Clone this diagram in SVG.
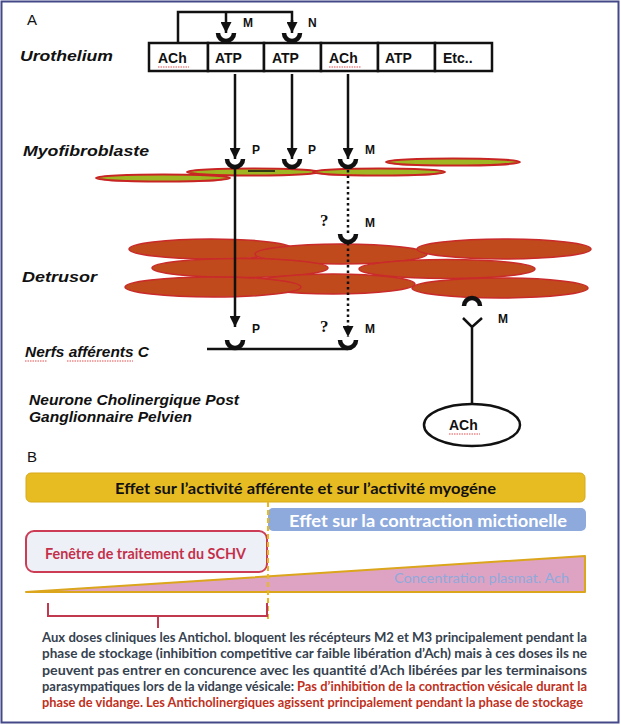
<svg xmlns="http://www.w3.org/2000/svg" width="621" height="725" viewBox="0 0 621 725">
<style>
.lbl{font-family:"Liberation Sans",Arial,sans-serif;font-weight:bold;font-style:italic;font-size:15px;fill:#111}
.box{fill:#fff;stroke:#111;stroke-width:2.5}
.bt{font-family:"Liberation Sans",Arial,sans-serif;font-weight:bold;font-size:14px;fill:#111}
.sm{font-family:"Liberation Sans",Arial,sans-serif;font-weight:bold;font-size:12px;fill:#111}
.q{font-family:"Liberation Serif","Times New Roman",serif;font-weight:bold;font-size:17px;fill:#111}
.ln{stroke:#111;stroke-width:2.5;fill:none}
.dot{stroke:#111;stroke-width:2.5;fill:none;stroke-dasharray:2.5 3}
.cup{stroke:#111;stroke-width:4.5;fill:none}
.myo{fill:#9fb622;stroke:#c92424;stroke-width:2}
.det{fill:#c14a1c;stroke:#c92a2a;stroke-width:1.5}
.sq{stroke:#e02020;stroke-width:0.8;fill:none;stroke-dasharray:1.5 1}
.cal{font-family:Lato,"Open Sans",sans-serif;font-weight:bold}
</style>
<defs>
<marker id="ah" viewBox="0 0 10 10" refX="10" refY="5" markerWidth="4.6" markerHeight="4.4" orient="auto" markerUnits="strokeWidth">
<path d="M0,0 L10,5 L0,10 Z" fill="#111"/>
</marker>
</defs>
<rect x="1.5" y="1.5" width="617" height="721" fill="#fff" stroke="#454888" stroke-width="2"/>

<text x="27" y="25" font-family="Liberation Sans,Arial,sans-serif" font-size="15" fill="#111">A</text>
<text x="27" y="462" font-family="Liberation Sans,Arial,sans-serif" font-size="15" fill="#111">B</text>

<g id="labels">
<text class="lbl" x="20" y="61" textLength="93" lengthAdjust="spacingAndGlyphs">Urothelium</text>
<text class="lbl" x="23" y="156" textLength="126" lengthAdjust="spacingAndGlyphs">Myofibroblaste</text>
<text class="lbl" x="22" y="282" textLength="75" lengthAdjust="spacingAndGlyphs">Detrusor</text>
<text class="lbl" x="25" y="357" textLength="124" lengthAdjust="spacingAndGlyphs">Nerfs afférents C</text>
<path class="sq" d="M25,361 H47 M67,361 H133"/>
<text class="lbl" x="29" y="405" textLength="210" lengthAdjust="spacingAndGlyphs">Neurone Cholinergique Post</text>
<text class="lbl" x="29" y="422" textLength="163" lengthAdjust="spacingAndGlyphs">Ganglionnaire Pelvien</text>
</g>

<g id="myofibroblast">
<ellipse class="myo" cx="163" cy="178" rx="67" ry="3.5"/>
<ellipse class="myo" cx="253" cy="172" rx="66" ry="3.5"/>
<ellipse class="myo" cx="379" cy="172" rx="66" ry="3.5"/>
<ellipse class="myo" cx="453" cy="162" rx="67" ry="3.5"/>
<line x1="248" y1="171" x2="275" y2="171" stroke="#111" stroke-width="1.5"/>
</g>

<g id="detrusor">
<ellipse class="det" cx="211" cy="249" rx="82" ry="10"/>
<ellipse class="det" cx="341" cy="254" rx="86" ry="10"/>
<ellipse class="det" cx="504" cy="249" rx="87" ry="10"/>
<ellipse class="det" cx="240" cy="268" rx="88" ry="9.5"/>
<ellipse class="det" cx="447" cy="269" rx="88" ry="9.5"/>
<ellipse class="det" cx="333" cy="284" rx="82" ry="10"/>
<ellipse class="det" cx="213" cy="287" rx="88" ry="10"/>
<ellipse class="det" cx="500" cy="288" rx="88" ry="10"/>
</g>

<g id="urothelium">
<rect class="box" x="149" y="43" width="59" height="28"/>
<rect class="box" x="208" y="43" width="56" height="28"/>
<rect class="box" x="264" y="43" width="57" height="28"/>
<rect class="box" x="321" y="43" width="57" height="28"/>
<rect class="box" x="378" y="43" width="57" height="28"/>
<rect class="box" x="435" y="43" width="57" height="28"/>
<text class="bt" x="158" y="63">ACh</text>
<path class="sq" d="M158,67 H189"/>
<text class="bt" x="215" y="63">ATP</text>
<text class="bt" x="272" y="63">ATP</text>
<text class="bt" x="329" y="63">ACh</text>
<path class="sq" d="M329,67 H361"/>
<text class="bt" x="385" y="63">ATP</text>
<text class="bt" x="443" y="63">Etc..</text>
</g>

<g id="neuron">
<ellipse cx="472" cy="425" rx="48" ry="21" fill="#fff" stroke="#111" stroke-width="2.5"/>
<text class="bt" x="449" y="430">ACh</text>
<path class="sq" d="M449,434 H480"/>
</g>

<g id="connectors">
<path class="ln" d="M178,43 V12 H292 V22"/>
<line class="ln" x1="226" y1="12" x2="226" y2="33" marker-end="url(#ah)"/>
<line class="ln" x1="292" y1="20" x2="292" y2="33" marker-end="url(#ah)"/>
<path class="cup" d="M218,33 A8,8 0 0 0 234,33"/>
<path class="cup" d="M284,33 A8,8 0 0 0 300,33"/>
<line class="ln" x1="235" y1="74" x2="235" y2="159" marker-end="url(#ah)"/>
<line class="ln" x1="292" y1="74" x2="292" y2="159" marker-end="url(#ah)"/>
<line class="ln" x1="348" y1="74" x2="348" y2="159" marker-end="url(#ah)"/>
<path class="cup" d="M227,159 A8,8 0 0 0 243,159"/>
<path class="cup" d="M284,159 A8,8 0 0 0 300,159"/>
<path class="cup" d="M340,159 A8,8 0 0 0 356,159"/>
<circle cx="348" cy="163" r="1.3" fill="#fff"/>
<line class="ln" x1="235" y1="165" x2="235" y2="327" marker-end="url(#ah)"/>
<path class="cup" d="M227,340 A8,8 0 0 0 243,340"/>
<line class="dot" x1="348" y1="170" x2="348" y2="233"/>
<path class="cup" d="M340,234 A8,8 0 0 0 356,234"/>
<line class="dot" x1="348" y1="243" x2="348" y2="337" marker-end="url(#ah)"/>
<path class="cup" d="M340,340 A8,8 0 0 0 356,340"/>
<line class="ln" x1="207" y1="349" x2="348" y2="349"/>
<path class="cup" d="M464,306 A8,8 0 0 1 480,306"/>
<path class="ln" d="M463,318 L472,327 L482,318 M472,327 V404"/>
</g>

<g id="receptor-labels">
<text class="sm" x="243" y="27">M</text>
<text class="sm" x="308" y="27">N</text>
<text class="sm" x="252" y="154">P</text>
<text class="sm" x="308" y="154">P</text>
<text class="sm" x="365" y="154">M</text>
<text class="q" x="320" y="226">?</text>
<text class="sm" x="365" y="227">M</text>
<text class="q" x="320" y="332">?</text>
<text class="sm" x="365" y="333">M</text>
<text class="sm" x="252" y="333">P</text>
<text class="sm" x="498" y="323">M</text>
</g>

<g id="part-b">
<g id="bar-afferent">
<rect x="26" y="473" width="559" height="29" rx="5" fill="#e7bb22" stroke="#d8a91a" stroke-width="1"/>
<text class="cal" x="115" y="494" font-size="15" fill="#111" textLength="381" lengthAdjust="spacingAndGlyphs">Effet sur l’activité afférente et sur l’activité myogéne</text>
</g>
<g id="bar-contraction">
<rect x="268" y="508" width="318" height="23" rx="5" fill="#8eaadd"/>
<text class="cal" x="289" y="527" font-size="17" fill="#fff" textLength="278" lengthAdjust="spacingAndGlyphs">Effet sur la contraction mictionelle</text>
</g>
<g id="window">
<rect x="26" y="531" width="241" height="41" rx="8" fill="#eef0f8" stroke="#cc3d55" stroke-width="2"/>
<text class="cal" x="45" y="559" font-size="15" fill="#c4304a" textLength="201" lengthAdjust="spacingAndGlyphs">Fenêtre de traitement du SCHV</text>
</g>
<g id="concentration">
<polygon points="26,592 585,556 585,592" fill="#dea3c2" stroke="#dba51c" stroke-width="2" stroke-linejoin="round"/>
<text x="394" y="583" font-family="Lato,'Open Sans',sans-serif" font-size="14" fill="#8eaadd" textLength="175" lengthAdjust="spacingAndGlyphs">Concentration plasmat. Ach</text>
</g>
<line x1="268" y1="502" x2="268" y2="620" stroke="#e8b820" stroke-width="2" stroke-dasharray="5 3"/>
<path d="M48,603 V616 H267 V603 M158,616 V628" fill="none" stroke="#c0394f" stroke-width="2"/>
<g id="caption" class="cal" font-size="12.5">
<text x="42" y="642" fill="#36424f" textLength="545" lengthAdjust="spacingAndGlyphs">Aux doses cliniques les Antichol. bloquent les récépteurs M2 et M3 principalement pendant la</text>
<text x="42" y="658" fill="#36424f" textLength="545" lengthAdjust="spacingAndGlyphs">phase de stockage (inhibition competitive car faible libération d’Ach) mais à ces doses ils ne</text>
<text x="42" y="675" fill="#36424f" textLength="545" lengthAdjust="spacingAndGlyphs">peuvent pas entrer en concurence avec les quantité d’Ach libérées par les terminaisons</text>
<text x="42" y="691" fill="#36424f" textLength="252" lengthAdjust="spacingAndGlyphs">parasympatiques lors de la vidange vésicale:</text>
<text x="297" y="691" fill="#c0301c" textLength="290" lengthAdjust="spacingAndGlyphs">Pas d’inhibition de la contraction vésicale durant la</text>
<text x="42" y="707" fill="#c0301c" textLength="541" lengthAdjust="spacingAndGlyphs">phase de vidange. Les Anticholinergiques agissent principalement pendant la phase de stockage</text>
</g>
</g>
</svg>
